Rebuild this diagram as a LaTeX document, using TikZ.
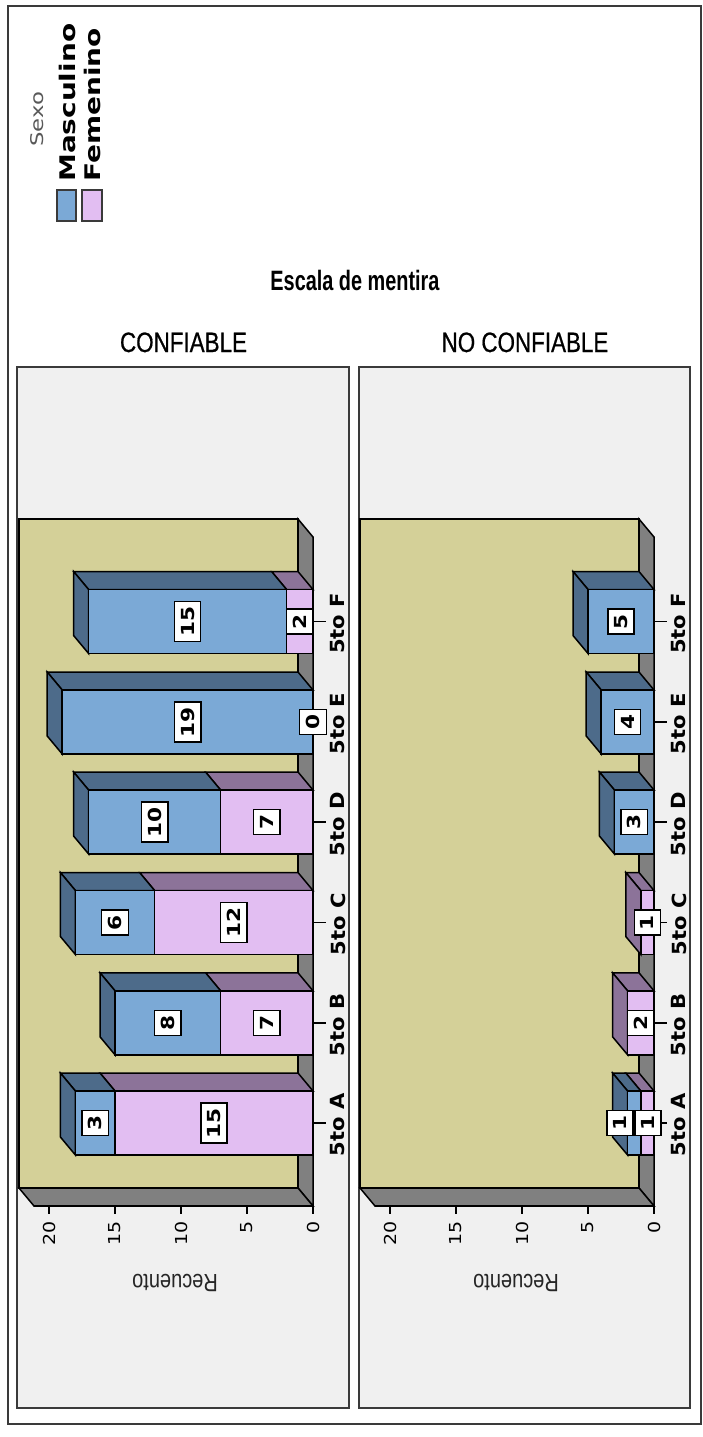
\documentclass[tikz,border=0pt]{standalone}
\usepackage{fontspec}
\setmainfont{Liberation Sans}
\newfontfamily\hdrfont[FakeStretch=0.8,FakeBold=0.6]{Liberation Sans}
\newfontfamily\recfont[FakeStretch=0.8]{Liberation Sans}
\newfontfamily\titlefont[FakeStretch=0.71]{Liberation Sans}
\newfontfamily\legfont[FakeStretch=1.3]{DejaVu Sans}
\newfontfamily\tickfont[FakeStretch=1.15]{DejaVu Sans}
\newfontfamily\catfont[FakeStretch=1.08]{DejaVu Sans}
\newfontfamily\valfont[FakeStretch=1.2]{DejaVu Sans}
\definecolor{panelbg}{HTML}{F0F0F0}
\definecolor{khaki}{HTML}{D4D098}
\definecolor{floorc}{HTML}{808080}
\definecolor{mascc}{HTML}{7BA9D6}
\definecolor{mascdark}{HTML}{4D6B8A}
\definecolor{femc}{HTML}{E2BEF2}
\definecolor{femdark}{HTML}{8C7399}
\definecolor{framec}{HTML}{3A3A3A}
\newcommand\chartframe[2]{%
  \filldraw[fill=khaki, draw=black, line width=1.5] ({#1-294},519) rectangle ({#1-15},1188);
  \filldraw[fill=floorc, draw=black, line width=1.5] ({#1-15},519) -- (#1,537) -- (#1,1206) -- ({#1-15},1188) -- cycle;
  \filldraw[fill=floorc, draw=black, line width=1.5] ({#1-294},1188) -- ({#1-15},1188) -- (#1,1206) -- ({#1-279},1206) -- cycle;
  \draw[line width=2.6] ({#1-279},1206) -- (#1,1206);
  \foreach \v in {0,5,10,15,20}{
    \draw[line width=1.4] ({#1-\v*13.2},1206) -- ({#1-\v*13.2},1214);
    \node[ticklab] (tick#2\v) at ({#1-\v*13.2},1221) {\v};
  }
  \node[reclab] (rec#2) at ({#1-138},1283) {Recuento};
}
\newcommand\stackbar[4]{%
  \pgfmathsetmacro\ya{#2-32}%
  \pgfmathsetmacro\yb{#2+32}%
  \pgfmathsetmacro\yc{#2-50}%
  \pgfmathsetmacro\yd{#2+14}%
  \pgfmathsetmacro\xf{#1-#3*13.2}%
  \pgfmathsetmacro\xm{\xf-#4*13.2}%
  \pgfmathsetmacro\xs{#1-15}%
  \pgfmathsetmacro\xfb{\xf-15}%
  \pgfmathsetmacro\xmb{\xm-15}%
  \ifnum#3>0
    \filldraw[barline, fill=femdark] (#1,\ya) -- (\xs,\yc) -- (\xfb,\yc) -- (\xf,\ya) -- cycle;
  \fi
  \ifnum#4>0
    \filldraw[barline, fill=mascdark] (\xf,\ya) -- (\xfb,\yc) -- (\xmb,\yc) -- (\xm,\ya) -- cycle;
    \filldraw[barline, fill=mascdark] (\xm,\ya) -- (\xmb,\yc) -- (\xmb,\yd) -- (\xm,\yb) -- cycle;
  \else
    \filldraw[barline, fill=femdark] (\xm,\ya) -- (\xmb,\yc) -- (\xmb,\yd) -- (\xm,\yb) -- cycle;
  \fi
  \ifnum#3>0 \filldraw[barline, fill=femc] (#1,\ya) rectangle (\xf,\yb); \fi
  \ifnum#4>0 \filldraw[barline, fill=mascc] (\xf,\ya) rectangle (\xm,\yb); \fi
  \draw[line width=1.4] (#1,#2) -- ({#1+13},#2);
}
\begin{document}
\begin{tikzpicture}[x=1pt, y=-1pt,
  barline/.style={draw=black, line width=1.5},
  vlab/.style={draw=black, line width=1.4, fill=white, rotate=90, inner xsep=5, inner ysep=6.5,
    font=\valfont\bfseries\fontsize{18}{18}\selectfont},
  catlab/.style={rotate=90, inner sep=0, font=\catfont\bfseries\fontsize{19.5}{19.5}\selectfont},
  ticklab/.style={rotate=90, anchor=east, inner sep=0, font=\tickfont\fontsize{16.5}{16.5}\selectfont},
  reclab/.style={rotate=180, inner sep=0, text=black!85, font=\recfont\fontsize{25}{25}\selectfont},
  hdr/.style={anchor=base, inner sep=0, font=\hdrfont\fontsize{28}{28}\selectfont},
  legtxt/.style={rotate=90, anchor=base west, inner sep=0}
]
\useasboundingbox (0,0) rectangle (703,1437);
\fill[white] (0,0) rectangle (703,1437);
\draw[framec, line width=1.5] (8,6) rectangle (701,1424);
% legend
\node[legtxt, text=black!65, font=\legfont\fontsize{17.5}{17.5}\selectfont] (sexo) at (43,147) {Sexo};
\node[legtxt, font=\legfont\bfseries\fontsize{21.5}{21.5}\selectfont] (legM) at (75,182) {Masculino};
\node[legtxt, font=\legfont\bfseries\fontsize{21.5}{21.5}\selectfont] (legF) at (100,182) {Femenino};
\filldraw[fill=mascc, draw=framec, line width=1.2] (57,190) rectangle (76,221);
\filldraw[fill=femc, draw=framec, line width=1.2] (82,190) rectangle (102,221);
% titles
\node[anchor=base, inner sep=0, font=\titlefont\bfseries\fontsize{28}{28}\selectfont] (title) at (355,290) {Escala de mentira};
\node[hdr] (hdrL) at (183.5,352) {CONFIABLE};
\node[hdr] (hdrR) at (525,352) {NO CONFIABLE};
% panels
\filldraw[fill=panelbg, draw=framec, line width=1.6] (17,367) rectangle (349,1408);
\filldraw[fill=panelbg, draw=framec, line width=1.6] (359,367) rectangle (690,1408);
% ---------- left chart ----------
\chartframe{313}{L}
\stackbar{313}{621.5}{2}{15}
\stackbar{313}{722}{0}{19}
\stackbar{313}{822}{7}{10}
\stackbar{313}{922.5}{12}{6}
\stackbar{313}{1022.8}{7}{8}
\stackbar{313}{1123}{15}{3}
\node[vlab] (lFm) at (187.6,621.5) {15};
\node[vlab] (lFf) at (299.8,621.5) {2};
\node[vlab] (lEm) at (187.6,722) {19};
\node[vlab] (lEf) at (313,722) {0};
\node[vlab] (lDm) at (154.6,822) {10};
\node[vlab] (lDf) at (266.8,822) {7};
\node[vlab] (lCm) at (115,922.5) {6};
\node[vlab] (lCf) at (233.8,922.5) {12};
\node[vlab] (lBm) at (167.8,1022.8) {8};
\node[vlab] (lBf) at (266.8,1022.8) {7};
\node[vlab] (lAm) at (95.2,1123) {3};
\node[vlab] (lAf) at (214,1123) {15};
\node[catlab] (cLF) at (338,623.5) {5to F};
\node[catlab] (cLE) at (338,724) {5to E};
\node[catlab] (cLD) at (338,824) {5to D};
\node[catlab] (cLC) at (338,924.5) {5to C};
\node[catlab] (cLB) at (338,1024.8) {5to B};
\node[catlab] (cLA) at (338,1125) {5to A};
% ---------- right chart ----------
\chartframe{654}{R}
\stackbar{654}{621.5}{0}{5}
\stackbar{654}{722}{0}{4}
\stackbar{654}{822}{0}{3}
\stackbar{654}{922.5}{1}{0}
\stackbar{654}{1022.8}{2}{0}
\stackbar{654}{1123}{1}{1}
\node[vlab] (rFm) at (621,621.5) {5};
\node[vlab] (rEm) at (627.6,722) {4};
\node[vlab] (rDm) at (634.2,822) {3};
\node[vlab] (rCf) at (647.4,922.5) {1};
\node[vlab] (rBf) at (640.8,1022.8) {2};
\node[vlab] (rAm) at (620,1123) {1};
\node[vlab] (rAf) at (648,1123) {1};
\node[catlab] (cRF) at (679,623.5) {5to F};
\node[catlab] (cRE) at (679,724) {5to E};
\node[catlab] (cRD) at (679,824) {5to D};
\node[catlab] (cRC) at (679,924.5) {5to C};
\node[catlab] (cRB) at (679,1024.8) {5to B};
\node[catlab] (cRA) at (679,1125) {5to A};
\end{tikzpicture}
\end{document}
